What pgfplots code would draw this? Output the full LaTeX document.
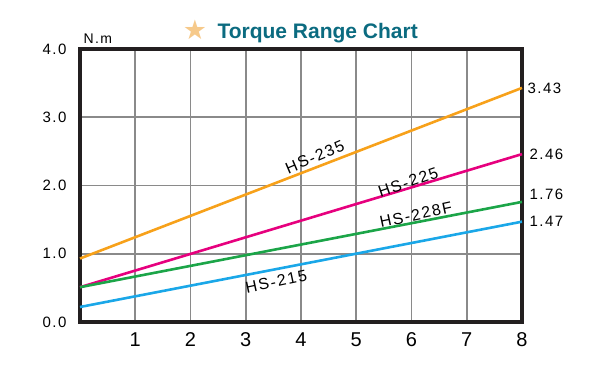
\documentclass[border=0pt]{standalone}
\usepackage{pgfplots}
\pgfplotsset{compat=1.18}
\usepackage{fontspec}
\setmainfont{Liberation Sans}[LetterSpace=10]
\newfontfamily\titlefont{Liberation Sans}
\newfontfamily\symfont{DejaVu Sans}
\definecolor{cOrange}{HTML}{F7A11A}
\definecolor{cPink}{HTML}{E6007E}
\definecolor{cGreen}{HTML}{1BA548}
\definecolor{cBlue}{HTML}{1AA7E8}
\definecolor{cTitle}{HTML}{0B6B80}
\definecolor{cFrame}{HTML}{231F20}
\definecolor{cGrid}{HTML}{8A8A8A}
\definecolor{cStar}{HTML}{F6C98A}
\begin{document}
\begin{tikzpicture}
\path[use as bounding box] (0,0) rectangle (607pt,368pt);
\begin{axis}[
  at={(80pt,46pt)}, anchor=south west,
  scale only axis, width=442pt, height=273pt,
  xmin=0, xmax=8, ymin=0, ymax=4,
  xtick={1,2,...,8}, ytick={0,1,2,3,4},
  /pgf/number format/assume math mode=true,
  xticklabel style={font=\fontsize{20}{20}\selectfont, yshift=-7pt},
  yticklabel style={font=\fontsize{15}{15}\selectfont, xshift=-10pt, /pgf/number format/.cd, fixed, fixed zerofill, precision=1},
  major tick length=0pt,
  grid=major,
  major grid style={color=cGrid, line width=1.8pt},
  axis line style={color=cFrame, line width=4pt},
  clip=false,
]
\addplot[cOrange, line width=2.6pt] coordinates {(0,0.93) (8,3.43)};
\addplot[cPink, line width=2.6pt] coordinates {(0,0.51) (8,2.46)};
\addplot[cGreen, line width=2.6pt] coordinates {(0,0.51) (8,1.76)};
\addplot[cBlue, line width=2.6pt] coordinates {(0,0.22) (8,1.47)};
\node[anchor=west, font=\fontsize{15}{15}\selectfont] at (axis cs:8,3.43) {\hspace{2pt}3.43};
\node[anchor=west, font=\fontsize{15}{15}\selectfont] at (axis cs:8,2.46) {\hspace{4pt}2.46};
\node[anchor=west, font=\fontsize{15}{15}\selectfont] at (axis cs:8,1.87) {\hspace{4pt}1.76};
\node[anchor=west, font=\fontsize{15}{15}\selectfont] at (axis cs:8,1.47) {\hspace{4pt}1.47};
\node[rotate=23, font=\fontsize{16}{16}\selectfont] at (axis cs:4.25,2.42) {HS-235};
\node[rotate=19, font=\fontsize{16}{16}\selectfont] at (axis cs:5.94,2.05) {HS-225};
\node[rotate=12, font=\fontsize{16}{16}\selectfont] at (axis cs:6.08,1.57) {HS-228F};
\node[rotate=12, font=\fontsize{16}{16}\selectfont] at (axis cs:3.55,0.59) {HS-215};
\end{axis}
\node[anchor=base west, font=\fontsize{14}{14}\selectfont] at (80pt,325pt) {N.m};
\node[font=\fontsize{21}{21}\selectfont\titlefont\bfseries, text=cTitle, anchor=base west] at (214pt,330pt) {Torque Range Chart};
\node[font=\fontsize{27}{27}\selectfont\symfont, text=cStar] at (195pt,338pt) {★};
\end{tikzpicture}
\end{document}
